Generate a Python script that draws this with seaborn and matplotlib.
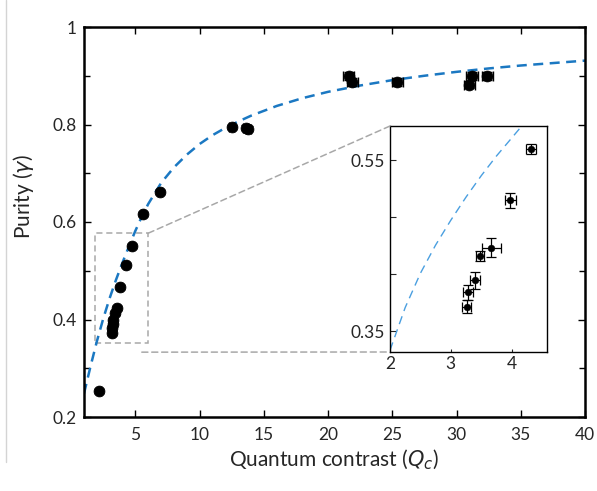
import numpy as np
import pandas as pd
import matplotlib
matplotlib.use("Agg")
import matplotlib.pyplot as plt
import seaborn as sns
from matplotlib.patches import Rectangle, ConnectionPatch
from matplotlib.lines import Line2D
from matplotlib.ticker import MultipleLocator

# ---------------- data ----------------
qc = [2.19, 3.20, 3.21, 3.23, 3.25, 3.42, 3.54, 3.83, 4.25, 4.71, 5.57, 6.9,
      12.5, 13.6, 13.8, 21.6, 21.9, 25.4, 31.0, 31.2, 32.4]
purity = [0.254, 0.373, 0.382, 0.391, 0.399, 0.413, 0.423, 0.466, 0.511, 0.551,
          0.616, 0.661, 0.795, 0.793, 0.791, 0.899, 0.888, 0.887, 0.882, 0.899, 0.899]
qc_err = [0.1, 0.1, 0.1, 0.1, 0.1, 0.1, 0.1, 0.1, 0.1, 0.1, 0.1, 0.15,
          0.2, 0.2, 0.2, 0.45, 0.45, 0.45, 0.45, 0.45, 0.45]
purity_err = [0.004, 0.004, 0.004, 0.004, 0.004, 0.004, 0.004, 0.004, 0.004,
              0.004, 0.004, 0.004, 0.005, 0.005, 0.005, 0.008, 0.008, 0.008,
              0.008, 0.008, 0.008]

fit_qc = [1.0, 1.5, 2.0, 2.5, 3.0, 3.5, 4.0, 4.5, 5.0, 5.5, 6.0, 7.0, 8.0, 9.0,
          10.0, 11.0, 12.0, 13.0, 14.0, 16.0, 18.0, 20.0, 22.5, 25.0, 27.5,
          30.0, 32.5, 35.0, 37.5, 40.0]
fit_purity = [0.248, 0.303, 0.355, 0.402, 0.444, 0.482, 0.517, 0.550, 0.582,
              0.611, 0.637, 0.680, 0.712, 0.738, 0.760, 0.778, 0.793, 0.806,
              0.818, 0.838, 0.854, 0.867, 0.880, 0.891, 0.900, 0.908, 0.915,
              0.921, 0.926, 0.931]

inset_qc = [3.26, 3.28, 3.40, 3.48, 3.66, 3.98, 4.31]
inset_purity = [0.379, 0.396, 0.410, 0.438, 0.448, 0.503, 0.563]
inset_qc_err = [0.077, 0.077, 0.082, 0.071, 0.156, 0.096, 0.082]
inset_purity_err = [0.0078, 0.0087, 0.010, 0.0062, 0.0115, 0.009, 0.0062]

inset_fit_qc = [2.0, 2.25, 2.5, 2.75, 3.0, 3.25, 3.5, 3.75, 4.0, 4.13]
inset_fit_purity = [0.328, 0.378, 0.418, 0.451, 0.480, 0.507, 0.532, 0.555, 0.576, 0.587]

x_ticks = [5, 10, 15, 20, 25, 30, 35, 40]
y_ticks = [0.2, 0.4, 0.6, 0.8, 1.0]
y_ticklabels = ["0.2", "0.4", "0.6", "0.8", "1"]
inset_x_ticks = [2, 3, 4]
inset_y_ticks = [0.35, 0.4167, 0.4833, 0.55]
inset_y_ticklabels = ["0.35", "", "", "0.55"]

# ---------------- style ----------------
sns.set_style("ticks")
plt.rcParams['font.family'] = ['Lato', 'DejaVu Sans']
plt.rcParams['mathtext.fontset'] = 'dejavusans'

fig = plt.figure(figsize=(5.97, 4.91), dpi=100)
ax = fig.add_axes([84 / 597, 1 - 417 / 491, 501 / 597, 390 / 491])

blue = "#1b78c2"

sns.lineplot(x=fit_qc, y=fit_purity, ax=ax, color=blue, lw=1.8,
             linestyle=(0, (4, 2.6)), estimator=None, sort=False, zorder=2)
ax.errorbar(qc, purity, xerr=qc_err, yerr=purity_err, fmt='none',
            ecolor='black', elinewidth=1, capsize=3.5, zorder=3)
sns.scatterplot(x=qc, y=purity, ax=ax, s=62, color='black',
                edgecolor='black', linewidth=0.5, zorder=4)

ax.set_xlim(1, 40)
ax.set_ylim(0.2, 1.0)
ax.set_xticks(x_ticks)
ax.set_yticks(y_ticks)
ax.set_yticklabels(y_ticklabels)
ax.yaxis.set_minor_locator(MultipleLocator(0.1))
ax.tick_params(which='both', direction='in', top=True, right=True,
               labelsize=12.5, width=1, color='black')
ax.tick_params(which='major', length=5)
ax.tick_params(which='minor', length=4)
ax.tick_params(axis='x', pad=7)
ax.tick_params(axis='y', pad=5)
for s in ax.spines.values():
    s.set_linewidth(1.8)
    s.set_color('black')
    s.set_visible(True)

ax.set_xlabel(r"Quantum contrast ($Q_c$)", fontsize=15)
ax.set_ylabel(r"Purity ($\gamma$)", fontsize=15)
ax.yaxis.set_label_coords(-0.095, 0.565)

# zoom box
box_x0, box_x1, box_y0, box_y1 = 1.82, 6.0, 0.351, 0.577
gray = "#a8a8a8"
ax.add_patch(Rectangle((box_x0, box_y0), box_x1 - box_x0, box_y1 - box_y0,
                       fill=False, ec=gray, lw=1.1, ls=(0, (4, 2.5)), zorder=1))

# inset
ax_in = fig.add_axes([390 / 597, 1 - 352 / 491, 157 / 597, 226 / 491])
sns.lineplot(x=inset_fit_qc, y=inset_fit_purity, ax=ax_in, color="#4a9fe0",
             lw=1.0, linestyle=(0, (6, 4)), estimator=None, sort=False)
ax_in.errorbar(inset_qc, inset_purity, xerr=inset_qc_err, yerr=inset_purity_err,
               fmt='none', ecolor='black', elinewidth=0.9, capsize=3.6,
               capthick=0.9, zorder=3)
sns.scatterplot(x=inset_qc, y=inset_purity, ax=ax_in, s=24, color='black',
                edgecolor='black', linewidth=0.3, zorder=4)
ax_in.set_xlim(2, 4.58)
ax_in.set_ylim(0.326, 0.590)
ax_in.set_xticks(inset_x_ticks)
ax_in.set_yticks(inset_y_ticks)
ax_in.set_yticklabels(inset_y_ticklabels)
ax_in.tick_params(direction='in', length=4, width=0.8, labelsize=12.5, pad=4)
ax_in.tick_params(axis='x', length=2, pad=3)
for s in ax_in.spines.values():
    s.set_linewidth(1.0)
    s.set_color('black')
    s.set_visible(True)

# connector lines
con1 = ConnectionPatch(xyA=(box_x1, box_y1), coordsA=ax.transData,
                       xyB=(0, 1), coordsB=ax_in.transAxes,
                       color=gray, lw=1.1, ls=(0, (4, 2.5)))
con2 = ConnectionPatch(xyA=(5.5, 0.333), coordsA=ax.transData,
                       xyB=(0, 0), coordsB=ax_in.transAxes,
                       color=gray, lw=1.1, ls=(0, (4, 2.5)))
fig.add_artist(con1)
fig.add_artist(con2)

# faint page border at left
fig.add_artist(Line2D([5.5 / 597, 5.5 / 597], [0.06, 1.0], color="#d4d4d4",
                      lw=1.0, transform=fig.transFigure))

fig.savefig("out.png", dpi=100)
